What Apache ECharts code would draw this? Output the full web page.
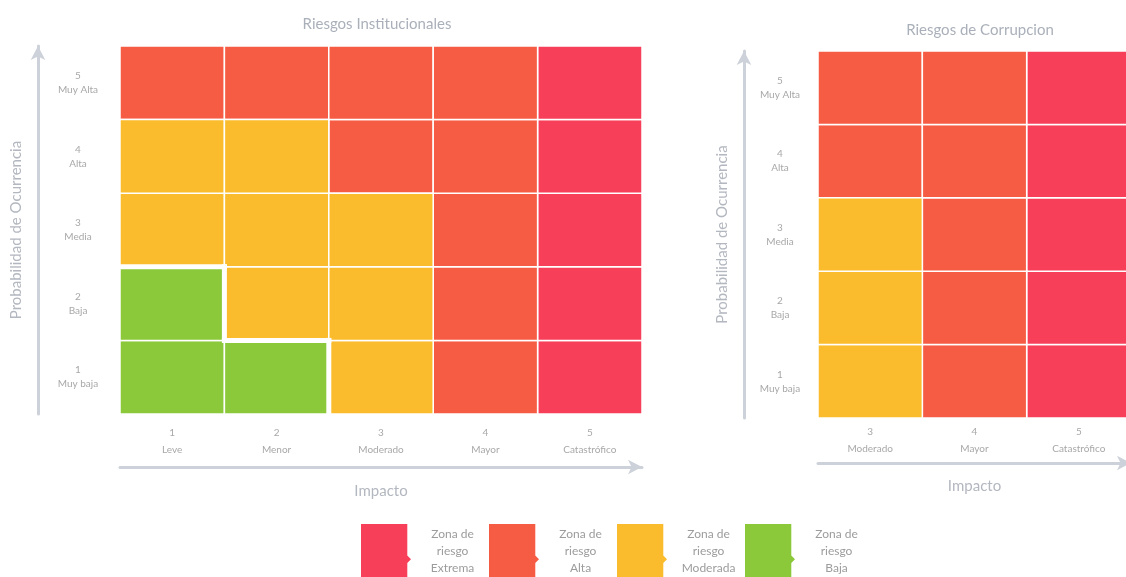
<!DOCTYPE html>
<html>
<head>
<meta charset="utf-8">
<script src="https://cdn.jsdelivr.net/npm/echarts@6/dist/echarts.min.js"></script>
<style>
html,body{margin:0;padding:0;background:#fff;}
#main{width:1126px;height:577px;}
</style>
</head>
<body>
<div id="main"></div>
<script>
// ---- data ----
const titleLeft = 'Riesgos Institucionales';
const titleRight = 'Riesgos de Corrupcion';
const impactLeft = ['1\nLeve', '2\nMenor', '3\nModerado', '4\nMayor', '5\nCatastrófico'];
const impactRight = ['3\nModerado', '4\nMayor', '5\nCatastrófico'];
const probabilityLeft = ['1\nMuy baja', '2\nBaja', '3\nMedia', '4\nAlta', '5\nMuy Alta'];
const probabilityRight = ['1\nMuy baja', '2\nBaja', '3\nMedia', '4\nAlta', '5\nMuy Alta'];
const zoneCodes = ['E', 'A', 'M', 'B'];
const zoneNames = ['Zona de riesgo Extrema', 'Zona de riesgo Alta', 'Zona de riesgo Moderada', 'Zona de riesgo Baja'];
const zoneColors = ['#f73f5a', '#f65c44', '#fabc2d', '#8cc93a'];
// rows: probability 1..5 (bottom to top), columns: impact
const matrixLeft = [
  ['B', 'B', 'M', 'A', 'E'],
  ['B', 'M', 'M', 'A', 'E'],
  ['M', 'M', 'M', 'A', 'E'],
  ['M', 'M', 'A', 'A', 'E'],
  ['A', 'A', 'A', 'A', 'E']
];
const matrixRight = [
  ['M', 'A', 'E'],
  ['M', 'A', 'E'],
  ['M', 'A', 'E'],
  ['A', 'A', 'E'],
  ['A', 'A', 'E']
];
const xAxisName = 'Impacto';
const yAxisName = 'Probabilidad de Ocurrencia';

// ---- build ----
const FONT = 'Lato, "Open Sans", sans-serif';
const axisGray = '#cdd1d9';
const labelGray = '#a8a8a8';

function cellsOf(matrix, code) {
  const out = [];
  matrix.forEach((row, y) => row.forEach((c, x) => { if (c === code) out.push([x, y]); }));
  return out;
}

function cellRender(params, api) {
  const p = api.coord([api.value(0), api.value(1)]);
  const s = api.size([1, 1]);
  return {
    type: 'rect',
    shape: { x: p[0] - s[0] / 2, y: p[1] - s[1] / 2, width: s[0], height: s[1] },
    style: { fill: api.visual('color'), stroke: '#fff', lineWidth: 1.5 }
  };
}

function borderRenderFor(matrix, code) {
  return function (params, api) {
    const x = api.value(0), y = api.value(1);
    const p = api.coord([x, y]);
    const s = api.size([1, 1]);
    const l = p[0] - s[0] / 2, r = p[0] + s[0] / 2, t = p[1] - s[1] / 2, b = p[1] + s[1] / 2;
    const children = [];
    const same = (xx, yy) => matrix[yy] && matrix[yy][xx] === code;
    const st = { stroke: '#fff', lineWidth: 5 };
    if (matrix[y + 1] && !same(x, y + 1)) children.push({ type: 'line', shape: { x1: l - 2.5, y1: t, x2: r + 2.5, y2: t }, style: st });
    if (matrix[y][x + 1] !== undefined && !same(x + 1, y)) children.push({ type: 'line', shape: { x1: r, y1: t - 2.5, x2: r, y2: b }, style: st });
    return { type: 'group', children: children };
  };
}

const series = [];
[[matrixLeft, 0], [matrixRight, 1]].forEach(([m, gi]) => {
  zoneCodes.forEach((code, zi) => {
    const cells = cellsOf(m, code);
    if (!cells.length) return;
    series.push({
      type: 'custom',
      name: zoneNames[zi],
      xAxisIndex: gi, yAxisIndex: gi,
      itemStyle: { color: zoneColors[zi] },
      encode: { x: 0, y: 1 },
      renderItem: cellRender,
      data: cells,
      z: 2
    });
  });
});
// thick white border around the low-risk zone
series.push({
  type: 'custom',
  name: 'borde',
  xAxisIndex: 0, yAxisIndex: 0,
  encode: { x: 0, y: 1 },
  renderItem: borderRenderFor(matrixLeft, 'B'),
  data: cellsOf(matrixLeft, 'B'),
  z: 5,
  silent: true
});

function xAxisCfg(cats, gi, offset, margin, nameGap) {
  return {
    type: 'category', gridIndex: gi, data: cats, position: 'bottom', offset: offset,
    axisLine: { show: true, lineStyle: { color: axisGray, width: 3 }, symbol: ['none', 'arrow'], symbolSize: [11, 14] },
    axisTick: { show: false }, splitLine: { show: false },
    axisLabel: { inside: true, margin: margin, color: labelGray, fontSize: 10, lineHeight: 17, fontFamily: FONT, interval: 0 },
    name: xAxisName, nameLocation: 'middle', nameGap: nameGap, nameMoveOverlap: false,
    nameTextStyle: { color: '#b3b7bf', fontSize: 15, fontFamily: FONT }
  };
}
function yAxisCfg(cats, gi, offset, margin) {
  return {
    type: 'category', gridIndex: gi, data: cats, position: 'left', offset: offset,
    axisLine: { show: true, lineStyle: { color: axisGray, width: 3 }, symbol: ['none', 'arrow'], symbolSize: [11, 14] },
    axisTick: { show: false }, splitLine: { show: false },
    axisLabel: { inside: true, margin: margin, align: 'center', color: labelGray, fontSize: 10, lineHeight: 14, fontFamily: FONT, interval: 0 },
    name: yAxisName, nameLocation: 'middle', nameGap: 14, nameMoveOverlap: false,
    nameTextStyle: { color: '#b3b7bf', fontSize: 15, fontFamily: FONT }
  };
}

const option = {
  backgroundColor: '#fff',
  animation: false,
  title: [
    { text: titleLeft, left: 372, top: 12, textAlign: 'center', textStyle: { color: '#aab0ba', fontSize: 15, fontWeight: 'normal', fontFamily: FONT } },
    { text: titleRight, left: 975, top: 18, textAlign: 'center', textStyle: { color: '#aab0ba', fontSize: 15, fontWeight: 'normal', fontFamily: FONT } }
  ],
  grid: [
    { left: 120, top: 46, width: 522, height: 368, outerBoundsMode: 'none', containLabel: false },
    { left: 818, top: 51, width: 313, height: 367, outerBoundsMode: 'none', containLabel: false }
  ],
  xAxis: [xAxisCfg(impactLeft, 0, 53, 9, 17), xAxisCfg(impactRight, 1, 45, 6, 16)],
  yAxis: [yAxisCfg(probabilityLeft, 0, 82, 40), yAxisCfg(probabilityRight, 1, 74, 36)],
  legend: {
    data: zoneNames,
    left: 356, top: 519,
    orient: 'horizontal',
    itemWidth: 50, itemHeight: 58, itemGap: 0,
    selectedMode: false,
    icon: 'path://M0,0 L50,0 L50,34 L54,38 L50,42 L50,58 L0,58 Z',
    formatter: function (name) {
      const parts = name.split(' ');
      return '{a|' + parts[0] + ' ' + parts[1] + '}\n{a|' + parts[2] + '}\n{a|' + parts[3] + '}';
    },
    textStyle: {
      rich: { a: { width: 73, align: 'center', color: '#9c9c9c', fontSize: 12, lineHeight: 17, fontFamily: FONT } }
    }
  },
  series: series
};

const chart = echarts.init(document.getElementById('main'));
chart.setOption(option);
</script>
</body>
</html>
